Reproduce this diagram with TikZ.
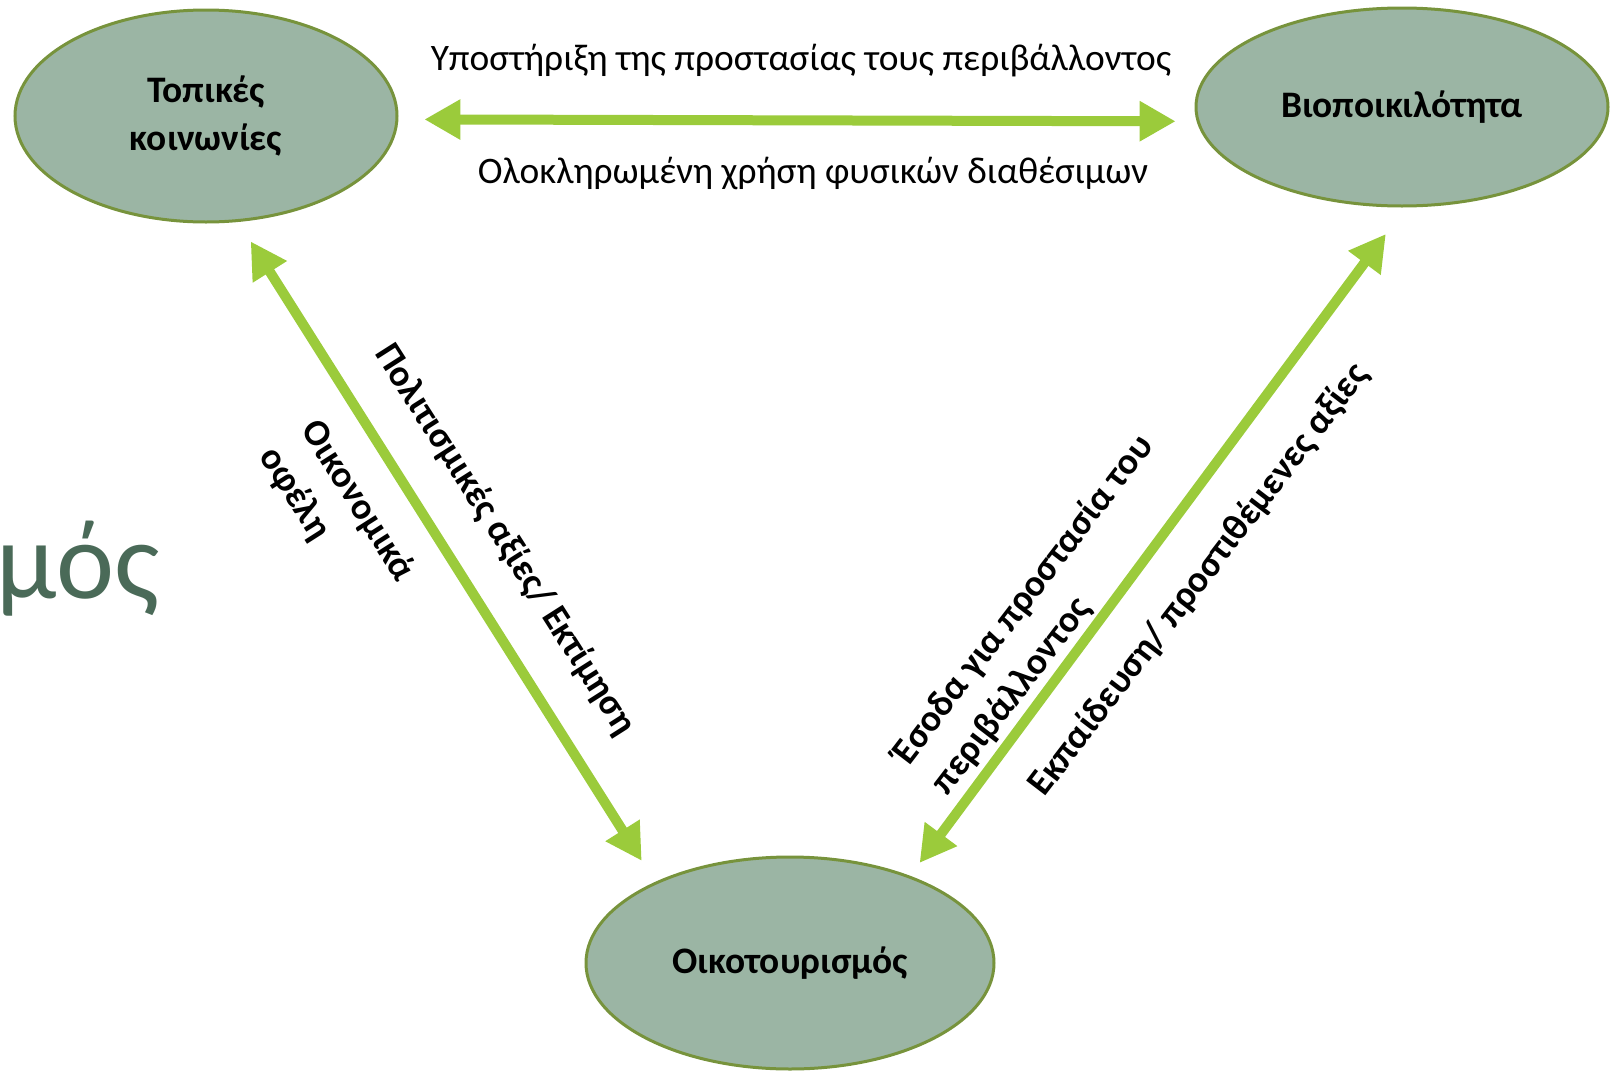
\documentclass[tikz,border=0pt]{standalone}
\usepackage{fontspec}
\setmainfont{Carlito}
\usetikzlibrary{shapes.geometric, arrows.meta}
\definecolor{sage}{HTML}{9BB5A4}
\definecolor{olivedge}{HTML}{77933C}
\definecolor{leaf}{HTML}{9BCB3B}
\definecolor{titlegreen}{HTML}{4A6A58}
\tikzstyle{place} = [ellipse, draw=olivedge, line width=1.5pt, fill=sage, inner sep=0pt, text centered, align=center, font=\fontsize{18.7}{24}\selectfont\bfseries]
\tikzstyle{link} = [line width=5pt, draw=leaf, {Triangle[length=18pt, width=19pt]}-{Triangle[length=18pt, width=19pt]}]
\tikzstyle{linklabel} = [inner sep=0pt, align=left, font=\fontsize{18.7}{24.5}\selectfont\bfseries]
\tikzstyle{toplabel} = [inner sep=0pt, anchor=base, font=\fontsize{18.7}{24}\selectfont]

\begin{document}
\begin{tikzpicture}[x=0.5pt, y=-0.5pt]
			\useasboundingbox (0,0) rectangle (1619,1071);
			\node (title) [anchor=base west, inner sep=0pt, text=titlegreen, font=\fontsize{55}{60}\selectfont] at (-4,598) {μός};
			\node (topo) [place, minimum width=191pt, minimum height=106pt] at (206,116) {Τοπικές\\κοινωνίες};
			\node (bio) [place, minimum width=206pt, minimum height=99pt] at (1402,107) {Βιοποικιλότητα};
			\node (oiko) [place, minimum width=204pt, minimum height=106pt] at (790,963) {Οικοτουρισμός};
			
			\draw [link, shorten <=13pt, shorten >=10.5pt] (topo.-1) -- (bio.184);
			\draw [link, shorten <=11.5pt, shorten >=12.5pt] (topo.-73) -- (oiko.149);
			\draw [link, shorten <=8pt, shorten >=16.5pt] (oiko.36.6) -- (bio.-88);
			
			\node (support) [toplabel] at (801,70) {Υποστήριξη της προστασίας τους περιβάλλοντος};
			\node (use) [toplabel] at (813,183) {Ολοκληρωμένη χρήση φυσικών διαθέσιμων};
			\node (culture) [linklabel, rotate=-57.5] at (505,540) {Πολιτισμικές αξίες/ Εκτίμηση};
			\node (benefit) [linklabel, rotate=-57.5] at (337,514) {Οικονομικά\\οφέλη};
			\node (income) [linklabel, rotate=52.5] at (1043,615) {Έσοδα για προστασία του\\περιβάλλοντος};
			\node (educ) [linklabel, rotate=52.5] at (1199,580) {Εκπαίδευση/ προστιθέμενες αξίες};
			\end{tikzpicture}
\end{document}
